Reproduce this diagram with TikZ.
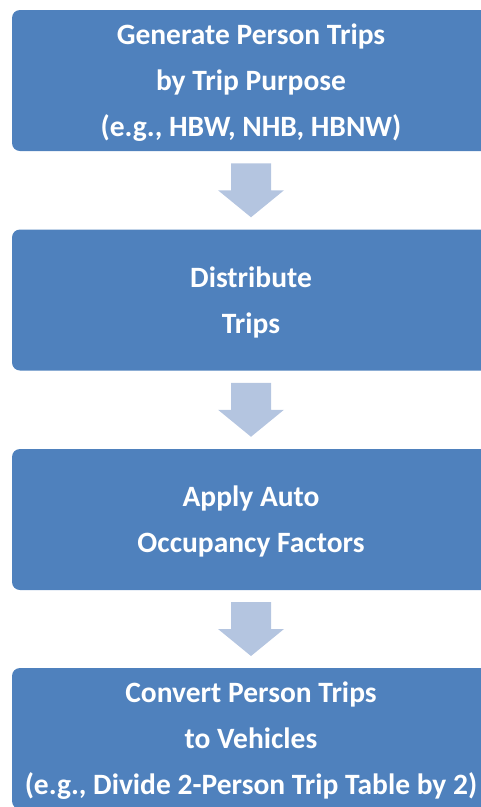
\documentclass[tikz,border=0pt]{standalone}
\usepackage{fontspec}
\setmainfont{Carlito}
\usetikzlibrary{calc}
\definecolor{stepblue}{RGB}{79,129,189}
\definecolor{arrowblue}{RGB}{180,197,224}
\tikzset{
  stepbox/.style={fill=stepblue,draw=none,rounded corners=8pt,
    minimum width=478pt,minimum height=141pt,text=white,align=center,
    font=\fontsize{29.5}{46}\selectfont\bfseries,text depth=-1pt},
}

\begin{document}
\begin{tikzpicture}[x=1pt,y=-1pt]
  \useasboundingbox (0,0) rectangle (481,807);
  \clip (0,0) rectangle (481,807);
  \node[stepbox] (gen)  at (251,80.5) {Generate Person Trips\\by Trip Purpose\\(e.g., HBW, NHB, HBNW)};
  \node[stepbox] (dist) at (251,300)  {Distribute\\Trips};
  \node[stepbox] (occ)  at (251,519.5) {Apply Auto\\Occupancy Factors};
  \node[stepbox] (veh)  at (251,738.5) {Convert Person Trips\\to Vehicles\\(e.g., Divide 2-Person Trip Table by 2)};
  % block arrows between the steps
  \foreach\A/\B in {gen/dist,dist/occ,occ/veh} {%
    \coordinate (m) at ($(\A.south)!0.5!(\B.north)$);
    \fill[arrowblue] (m)+(-20,-27) -- +(20,-27) -- +(20,0) -- +(33,0)
      -- +(0,27) -- +(-33,0) -- +(-20,0) -- cycle;
  }
\end{tikzpicture}
\end{document}
